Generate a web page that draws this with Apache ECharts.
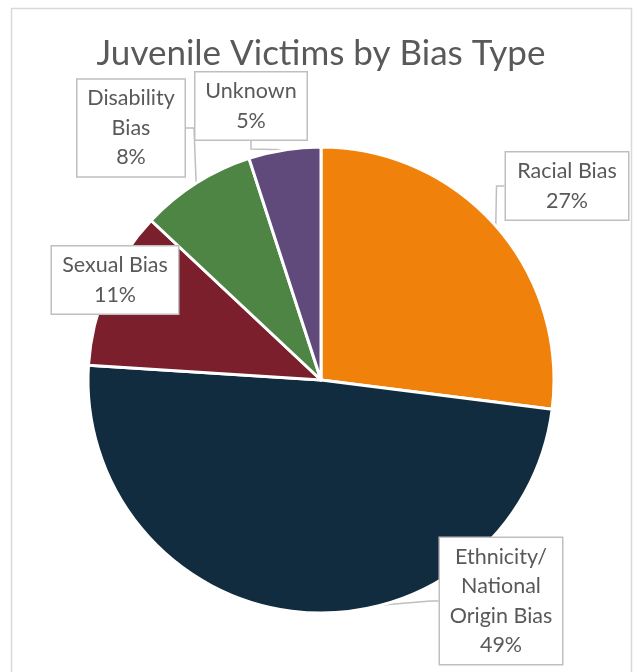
<!DOCTYPE html>
<html>
<head>
<meta charset="utf-8">
<script src="https://cdn.jsdelivr.net/npm/echarts@6/dist/echarts.min.js"></script>
<style>
  html, body { margin: 0; padding: 0; background: #fff; }
  #chart { width: 634px; height: 672px; }
</style>
</head>
<body>
<div id="chart"></div>
<script>
var categories = ["Racial Bias", "Ethnicity/National Origin Bias", "Sexual Bias", "Disability Bias", "Unknown"];
var labelLines = ["Racial Bias", "Ethnicity/\nNational\nOrigin Bias", "Sexual Bias", "Disability\nBias", "Unknown"];
var shares = [27, 49, 11, 8, 5];
var colors = ["#f0820b", "#112b3f", "#7a1f2b", "#4e8545", "#5f4a7b"];

// where each callout box sits (center) and how wide it is
var boxPos = [[567, 186], [501, 601], [115, 280], [131, 128], [251, 106]];
var boxWidth = [106, 106, 110, 91, 95];

var chart = echarts.init(document.getElementById("chart"));

var data = categories.map(function (name, i) {
  return {
    name: name,
    value: shares[i],
    itemStyle: { color: colors[i] },
    label: { width: boxWidth[i] }
  };
});

var option = {
  animation: false,
  backgroundColor: "#fff",
  title: {
    text: "Juvenile Victims by Bias Type",
    left: 316,
    textAlign: "center",
    top: 31,
    textStyle: {
      fontFamily: "Lato",
      fontSize: 35,
      fontWeight: "normal",
      color: "#595959"
    }
  },
  graphic: [{
    type: "rect",
    shape: { x: 11.5, y: 8.5, width: 620, height: 700 },
    style: { fill: "none", stroke: "#d9d9d9", lineWidth: 1.5 },
    silent: true
  }],
  series: [{
    type: "pie",
    center: [321, 380],
    radius: 233,
    startAngle: 90,
    clockwise: true,
    data: data,
    itemStyle: { borderColor: "#fff", borderWidth: 3 },
    label: {
      show: true,
      position: "outside",
      formatter: function (p) {
        return labelLines[p.dataIndex] + "\n" + p.value + "%";
      },
      fontFamily: "Lato",
      fontSize: 21.5,
      lineHeight: 29.5,
      color: "#595959",
      align: "center",
      backgroundColor: "#fff",
      borderColor: "#bfbfbf",
      borderWidth: 1.5,
      padding: [4, 8]
    },
    labelLine: {
      show: true,
      length: 8,
      length2: 8,
      lineStyle: { color: "#bfbfbf", width: 1.5 }
    },
    labelLayout: function (p) {
      return {
        x: boxPos[p.dataIndex][0],
        y: boxPos[p.dataIndex][1],
        align: "center",
        verticalAlign: "middle"
      };
    }
  }]
};

chart.setOption(option);
</script>
</body>
</html>
